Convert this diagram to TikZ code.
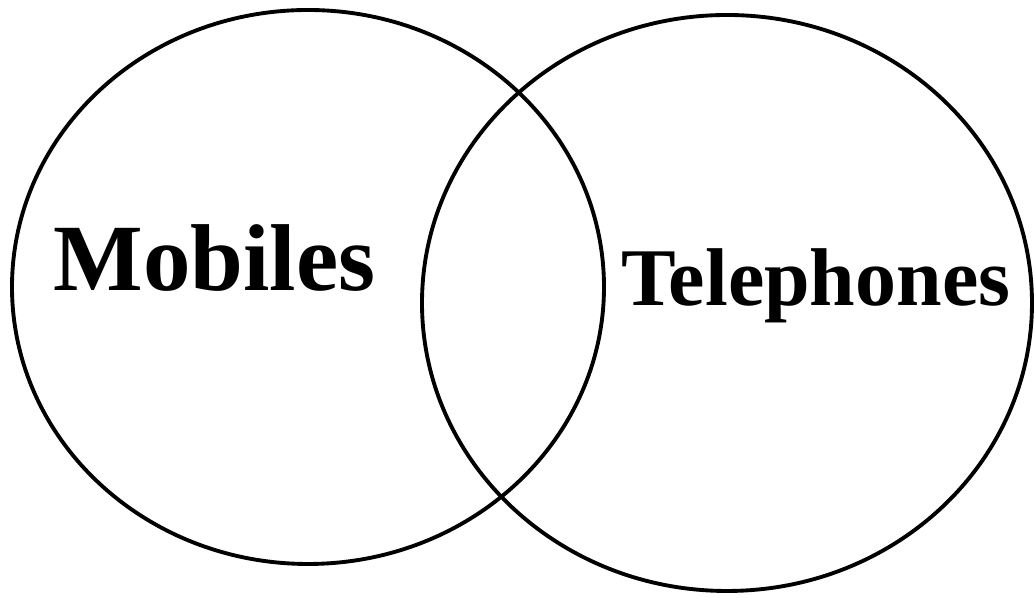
\documentclass[tikz,border=0pt]{standalone}
\usepackage{fontspec}
\setmainfont{Liberation Serif}
\begin{document}
\begin{tikzpicture}[x=0.01cm,y=-0.01cm,
  ring/.style={draw=black,line width=1.1pt},
  lbl/.style={inner sep=0pt,anchor=base west,font=\bfseries}]
\useasboundingbox (0,0) rectangle (1035,598);
\draw[ring] (308,287) ellipse [x radius=296,y radius=277];
\draw[ring] (727,303) ellipse [x radius=305,y radius=288];
\node[lbl,font=\fontsize{27}{27}\selectfont\bfseries] (mob) at (53,291) {Mobiles};
\node[lbl,font=\fontsize{23.3}{23.3}\selectfont\bfseries] (tel) at (621,306) {Telephones};
\end{tikzpicture}
\end{document}
